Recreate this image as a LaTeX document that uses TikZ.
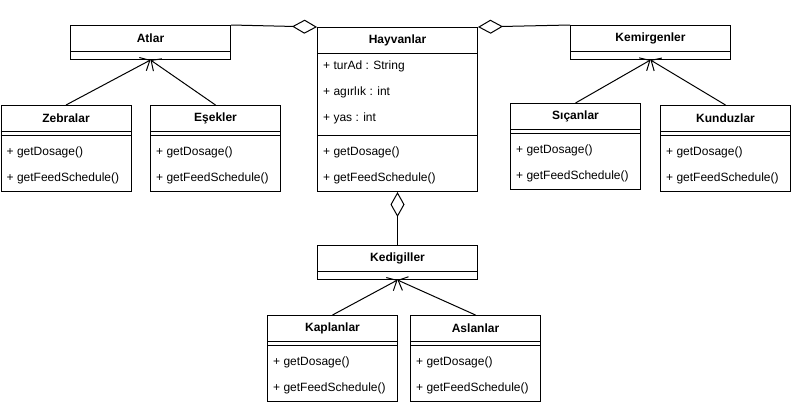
\documentclass[tikz,border=0pt]{standalone}
\usepackage{fontspec}
\setmainfont{Liberation Sans}
\usetikzlibrary{arrows.meta,calc}
\tikzset{
  cls/.style={draw, line width=1pt, inner sep=0pt, anchor=north west, fill=white},
  ttl/.style={font=\bfseries\fontsize{12}{14}\selectfont, inner sep=0pt},
  itm/.style={font=\fontsize{12}{14}\selectfont, inner sep=0pt, anchor=west},
  sepline/.style={line width=1pt},
  gen/.style={line width=1pt, -{Straight Barb[length=8pt,width=15pt]}},
  agg/.style={line width=1pt, -{Diamond[open,length=25pt,width=14pt]}},
}
\newcommand\smallcls[4]{%
  \node[cls, minimum width=130pt, minimum height=86pt] (#1) at (#2,#3) {};
  \node[ttl] (#1-t) at ($(#1.north)+(0,13)$) {#4};
  \draw[sepline] ($(#1.north west)+(0,26)$) -- ($(#1.north east)+(0,26)$);
  \draw[sepline] ($(#1.north west)+(0,30)$) -- ($(#1.north east)+(0,30)$);
  \node[itm] (#1-m1) at ($(#1.north west)+(6,47)$) {+ getDosage()};
  \node[itm] (#1-m2) at ($(#1.north west)+(6,73)$) {+ getFeedSchedule()};
}
\newcommand\headcls[4]{%
  \node[cls, minimum width=160pt, minimum height=34pt] (#1) at (#2,#3) {};
  \node[ttl] (#1-t) at ($(#1.north)+(0,13)$) {#4};
  \draw[sepline] ($(#1.north west)+(0,26)$) -- ($(#1.north east)+(0,26)$);
}
\begin{document}
\begin{tikzpicture}[x=1pt,y=-1pt]
\useasboundingbox (0,0) rectangle (791,405);
\fill[white] (0,0) rectangle (791,405);

% Hayvanlar
\node[cls, minimum width=160pt, minimum height=164pt] (hay) at (317,27) {};
\node[ttl] (hay-t) at ($(hay.north)+(0,13)$) {Hayvanlar};
\draw[sepline] ($(hay.north west)+(0,26)$) -- ($(hay.north east)+(0,26)$);
\node[itm] (hay-f1) at ($(hay.north west)+(6,39)$) {+ turAd : String};
\node[itm] (hay-f2) at ($(hay.north west)+(6,65)$) {+ agırlık : int};
\node[itm] (hay-f3) at ($(hay.north west)+(6,91)$) {+ yas : int};
\draw[sepline] ($(hay.north west)+(0,108)$) -- ($(hay.north east)+(0,108)$);
\node[itm] (hay-m1) at ($(hay.north west)+(6,125)$) {+ getDosage()};
\node[itm] (hay-m2) at ($(hay.north west)+(6,151)$) {+ getFeedSchedule()};

\headcls{atl}{70}{25}{Atlar}
\headcls{kem}{570}{25}{Kemirgenler}
\headcls{ked}{317}{245}{Kedigiller}

\smallcls{zeb}{0.5}{105}{Zebralar}
\smallcls{ese}{150}{105}{Eşekler}
\smallcls{sic}{510}{103}{Sıçanlar}
\smallcls{kun}{660}{105}{Kunduzlar}
\smallcls{kap}{267}{315}{Kaplanlar}
\smallcls{asl}{410}{315}{Aslanlar}

% generalizations
\draw[gen] (zeb.north) -- (atl.south);
\draw[gen] (ese.north) -- (atl.south);
\draw[gen] (sic.north) -- (kem.south);
\draw[gen] (kun.north) -- (kem.south);
\draw[gen] (kap.north) -- (ked.south);
\draw[gen] (asl.north) -- (ked.south);

% aggregations
\draw[agg] (atl.north east) -- (hay.north west);
\draw[agg] (kem.north west) -- (hay.north east);
\draw[agg] (ked.north) -- (hay.south);
\end{tikzpicture}
\end{document}
